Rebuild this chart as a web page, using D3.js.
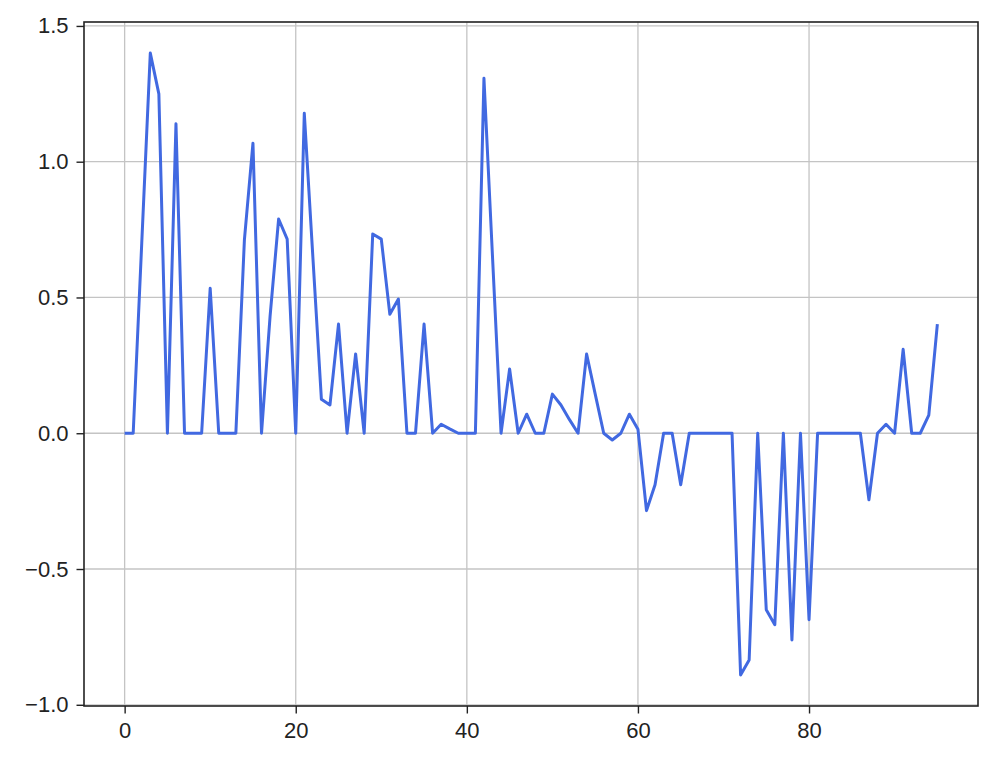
<!DOCTYPE html>
<html>
<head>
<meta charset="utf-8">
<script src="https://cdn.jsdelivr.net/npm/d3@7"></script>
<style>
  html, body { margin: 0; padding: 0; background: #fff; }
  svg { display: block; font-family: "Liberation Sans", Arial, sans-serif; }
</style>
</head>
<body>
<div id="chart"></div>
<script>
// values, one per step 0..95
const values = [
  0, 0, 0.70, 1.40, 1.25, 0, 1.14, 0, 0, 0,
  0.534, 0, 0, 0, 0.712, 1.068, 0, 0.43, 0.789, 0.715,
  0, 1.178, 0.65, 0.125, 0.104, 0.402, 0, 0.292, 0, 0.734,
  0.715, 0.438, 0.494, 0, 0, 0.402, 0, 0.033, 0.016, 0,
  0, 0, 1.307, 0.65, 0, 0.237, 0, 0.07, 0, 0,
  0.144, 0.104, 0.05, 0, 0.292, 0.145, 0, -0.025, 0, 0.07,
  0.015, -0.285, -0.19, 0, 0, -0.19, 0, 0, 0, 0,
  0, 0, -0.89, -0.835, 0, -0.65, -0.705, 0, -0.761, 0,
  -0.687, 0, 0, 0, 0, 0, 0, -0.245, 0, 0.033,
  0, 0.309, 0, 0, 0.067, 0.402
];
const xTicks = [0, 20, 40, 60, 80];
const yTicks = [-1.0, -0.5, 0.0, 0.5, 1.0, 1.5];

const W = 996, H = 764;
const margin = { top: 22, right: 18, bottom: 58, left: 84 };
const iw = W - margin.left - margin.right;
const ih = H - margin.top - margin.bottom;

const svg = d3.select('#chart').append('svg')
  .attr('width', W).attr('height', H);

const g = svg.append('g')
  .attr('transform', `translate(${margin.left},${margin.top})`);

// matplotlib-style 5% padding around the data
const n = values.length;
const xPad = (n - 1) * 0.05;
const [yMin, yMax] = d3.extent(values);
const yPad = (yMax - yMin) * 0.05;

const x = d3.scaleLinear().domain([-xPad, n - 1 + xPad]).range([0, iw]);
const y = d3.scaleLinear().domain([yMin - yPad, yMax + yPad]).range([ih, 0]);

// grid
g.append('g').selectAll('line').data(xTicks).join('line')
  .attr('x1', d => x(d)).attr('x2', d => x(d))
  .attr('y1', 0).attr('y2', ih)
  .attr('stroke', '#c4c4c4').attr('stroke-width', 1.3);
g.append('g').selectAll('line').data(yTicks).join('line')
  .attr('y1', d => y(d)).attr('y2', d => y(d))
  .attr('x1', 0).attr('x2', iw)
  .attr('stroke', '#c4c4c4').attr('stroke-width', 1.3);

// axes
const xAxis = g.append('g')
  .attr('transform', `translate(0,${ih})`)
  .call(d3.axisBottom(x).tickValues(xTicks).tickSize(7.5).tickPadding(9).tickFormat(d3.format('d')));
const yAxis = g.append('g')
  .call(d3.axisLeft(y).tickValues(yTicks).tickSize(7.5).tickPadding(8).tickFormat(d3.format('.1f')));

[xAxis, yAxis].forEach(a => {
  a.select('.domain').remove();
  a.selectAll('line').attr('stroke', '#222').attr('stroke-width', 1.4);
  a.selectAll('text').attr('fill', '#222').style('font-size', '22px')
    .style('font-family', '"Liberation Sans", Arial, sans-serif');
});

// the series
g.append('path')
  .datum(values)
  .attr('fill', 'none')
  .attr('stroke', '#4169e1')
  .attr('stroke-width', 3)
  .attr('stroke-linejoin', 'round')
  .attr('d', d3.line().x((d, i) => x(i)).y(d => y(d)));

// frame
g.append('rect')
  .attr('width', iw).attr('height', ih)
  .attr('fill', 'none')
  .attr('stroke', '#222').attr('stroke-width', 1.6);
</script>
</body>
</html>
